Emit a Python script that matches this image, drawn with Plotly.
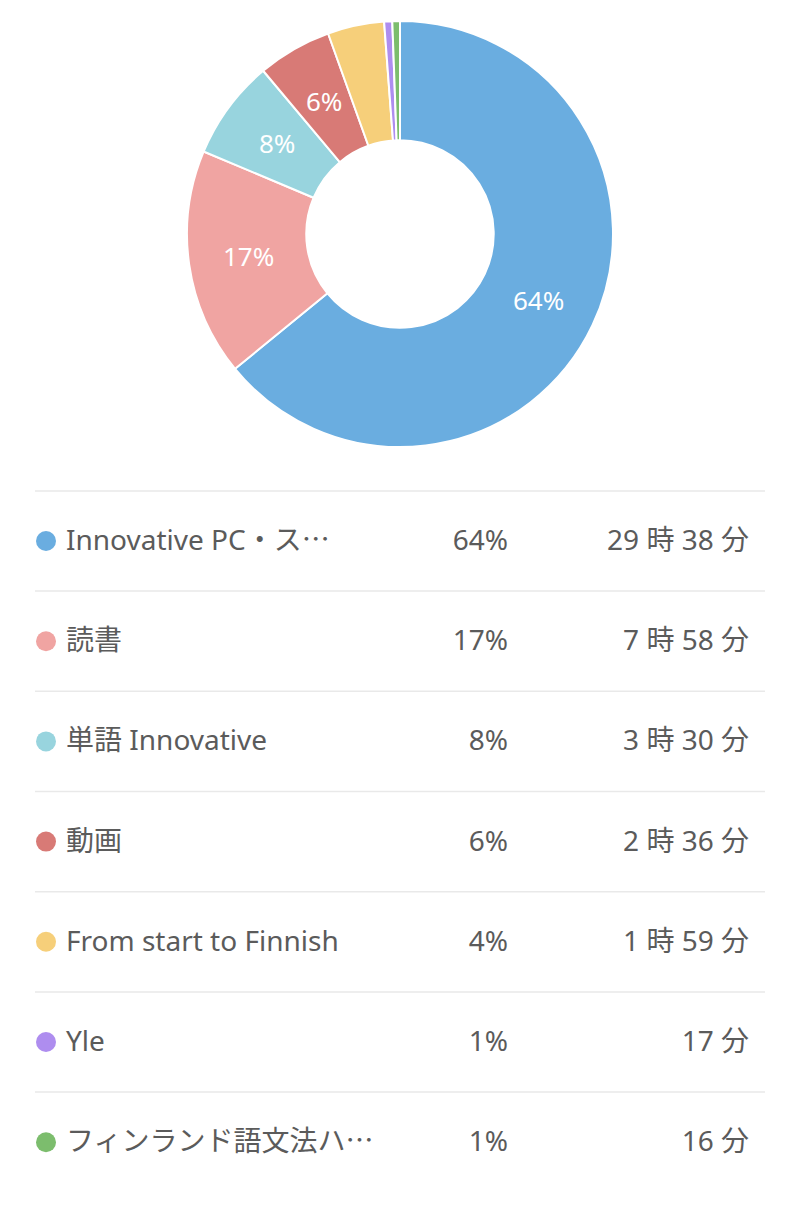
import math
import plotly.graph_objects as go

# ---- data ----
labels = ["Innovative PC・ス⋯", "読書", "単語 Innovative", "動画", "From start to Finnish", "Yle", "フィンランド語文法ハ⋯"]
minutes = [1778, 478, 210, 156, 119, 17, 16]
pct_labels = ["64%", "17%", "8%", "6%", "4%", "1%", "1%"]
time_labels = ["29 時 38 分", "7 時 58 分", "3 時 30 分", "2 時 36 分", "1 時 59 分", "17 分", "16 分"]
slice_text = ["64%", "17%", "8%", "6%", "", "", ""]
colors = ["#6AADE0", "#F0A4A2", "#98D4DE", "#D87A76", "#F6CF7A", "#AE8DEF", "#7CBD6D"]

W, H = 800, 1205
FONT = "Noto Sans, Noto Sans CJK JP, sans-serif"
TXT = "#5b5b5b"

fig = go.Figure()

# donut
cx, cy, R = 400, 234, 213
HOLE = 0.44
fig.add_trace(go.Pie(
    values=minutes, labels=labels, textinfo="none",
    marker=dict(colors=colors, line=dict(color="white", width=2)),
    hole=HOLE, sort=False, direction="clockwise", rotation=0,
    domain=dict(x=[(cx - R) / W, (cx + R) / W], y=[1 - (cy + R) / H, 1 - (cy - R) / H]),
    showlegend=False, hoverinfo="skip",
))

# slice labels at the middle of the ring, angle derived from the values
total = sum(minutes)
cum = 0
r_mid = R * (1 + HOLE) / 2
for v, t in zip(minutes, slice_text):
    mid = (cum + v / 2) / total * 2 * math.pi
    cum += v
    if not t:
        continue
    fig.add_annotation(x=cx + r_mid * math.sin(mid), y=cy - r_mid * math.cos(mid), xref="x", yref="y",
                       text=t, showarrow=False, font=dict(color="white", size=26, family=FONT))

# list rows
n = len(labels)
row0, step = 543, 100.2
rows_y = [row0 + step * i for i in range(n)]

sep_x, sep_y = [], []
for y in rows_y:
    sep_x += [35, 765, None]
    sep_y += [y - 2 - step / 2, y - 2 - step / 2, None]
fig.add_trace(go.Scatter(x=sep_x, y=sep_y, mode="lines",
                         line=dict(color="#e9e9e9", width=1.5), hoverinfo="skip", showlegend=False))

fig.add_trace(go.Scatter(x=[46] * n, y=[y - 2 for y in rows_y], mode="markers",
                         marker=dict(color=colors, size=20, line=dict(width=0)),
                         hoverinfo="skip", showlegend=False))
fig.add_trace(go.Scatter(x=[66] * n, y=rows_y, mode="text", text=labels, textposition="middle right",
                         textfont=dict(color=TXT, size=28, family=FONT), hoverinfo="skip", showlegend=False))
fig.add_trace(go.Scatter(x=[508] * n, y=rows_y, mode="text", text=pct_labels, textposition="middle left",
                         textfont=dict(color=TXT, size=28, family=FONT), hoverinfo="skip", showlegend=False))
fig.add_trace(go.Scatter(x=[749] * n, y=rows_y, mode="text", text=time_labels, textposition="middle left",
                         textfont=dict(color=TXT, size=28, family=FONT), hoverinfo="skip", showlegend=False))

fig.update_layout(
    width=W, height=H, margin=dict(l=0, r=0, t=0, b=0),
    paper_bgcolor="white", plot_bgcolor="white",
    xaxis=dict(range=[0, W], visible=False, fixedrange=True, domain=[0, 1]),
    yaxis=dict(range=[H, 0], visible=False, fixedrange=True, domain=[0, 1]),
)

fig.write_html("out.html")
